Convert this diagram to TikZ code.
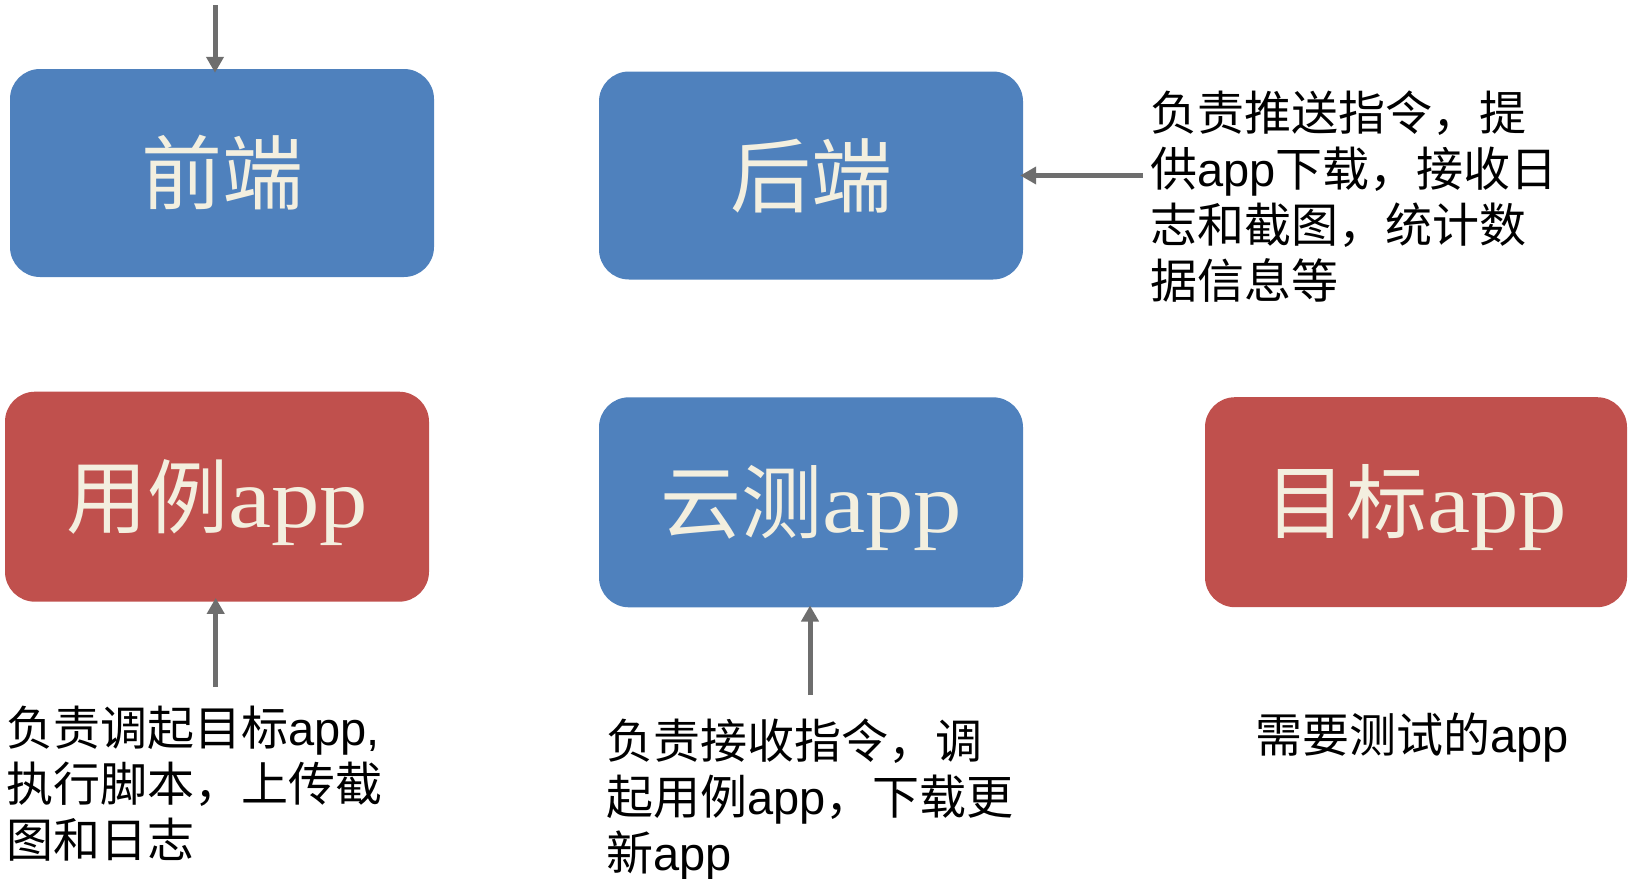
\documentclass[tikz,border=0pt]{standalone}
\usepackage{fontspec}
\setmainfont{Liberation Sans}
\newfontfamily\cjk{Noto Sans CJK SC}
\newfontfamily\boxlat[FakeStretch=1.14]{Liberation Serif}
\usetikzlibrary{arrows.meta}
\definecolor{boxblue}{HTML}{4F81BD}
\definecolor{boxred}{HTML}{C0504D}
\definecolor{cream}{HTML}{F3EFDF}
\definecolor{arrowgray}{HTML}{6E6E6E}
\newcommand\zh[1]{{\cjk #1}}
\newcommand\la[1]{{\boxlat\fontsize{85}{97}\selectfont #1}}
\begin{document}
\begin{tikzpicture}[x=1pt,y=-1pt,
  card/.style={rounded corners=30pt, minimum width=424pt, minimum height=208pt,
    inner sep=0pt, text=cream, font=\fontsize{81}{97}\selectfont,
    text height=71pt, text depth=10pt},
  bluecard/.style={card, fill=boxblue},
  redcard/.style={card, fill=boxred},
  desc/.style={anchor=north west, inner sep=0pt, align=left,
    font=\fontsize{47}{56}\selectfont},
  link/.style={draw=arrowgray, line width=5pt, -{Triangle[width=17pt,length=16pt]}}
]
\useasboundingbox (0,0) rectangle (1630,878);

\node[bluecard] (front) at (222,173) {\zh{前端}};
\node[bluecard] (back) at (811,175.5) {\zh{后端}};
\node[redcard, minimum height=210pt] (case) at (217,496.7) {\zh{用例}\la{app}};
\node[bluecard, minimum height=210pt] (cloud) at (811,502.3) {\zh{云测}\la{app}};
\node[redcard, minimum width=422pt, minimum height=210pt] (target) at (1416,502.2) {\zh{目标}\la{app}};

\node[desc] (backdesc) at (1150,86) {\rule{0pt}{44pt}\zh{负责推送指令，提}\\\zh{供}app\zh{下载，接收日}\\\zh{志和截图，统计数}\\\zh{据信息等}};
\node[desc] (casedesc) at (6,701) {\rule{0pt}{44pt}\zh{负责调起目标}app,\\\zh{执行脚本，上传截}\\\zh{图和日志}};
\node[desc] (clouddesc) at (606,713.9) {\rule{0pt}{44pt}\zh{负责接收指令，调}\\\zh{起用例}app\zh{，下载更}\\\zh{新}app};
\node[anchor=base, inner sep=0pt, font=\fontsize{47}{56}\selectfont] (targetdesc) at (1412,752.9) {\zh{需要测试的}app};

\coordinate (s1) at (215,5);
\draw[link, shorten >=-4pt] (s1) -- (s1 |- front.north);
\coordinate (s2) at (1143,175.5);
\draw[link, shorten >=-3pt] (s2) -- (back.east);
\coordinate (s3) at (215.7,687);
\draw[link, shorten >=-4pt] (s3) -- (s3 |- case.south);
\coordinate (s4) at (810,695);
\draw[link, shorten >=-2pt] (s4) -- (s4 |- cloud.south);
\end{tikzpicture}
\end{document}
